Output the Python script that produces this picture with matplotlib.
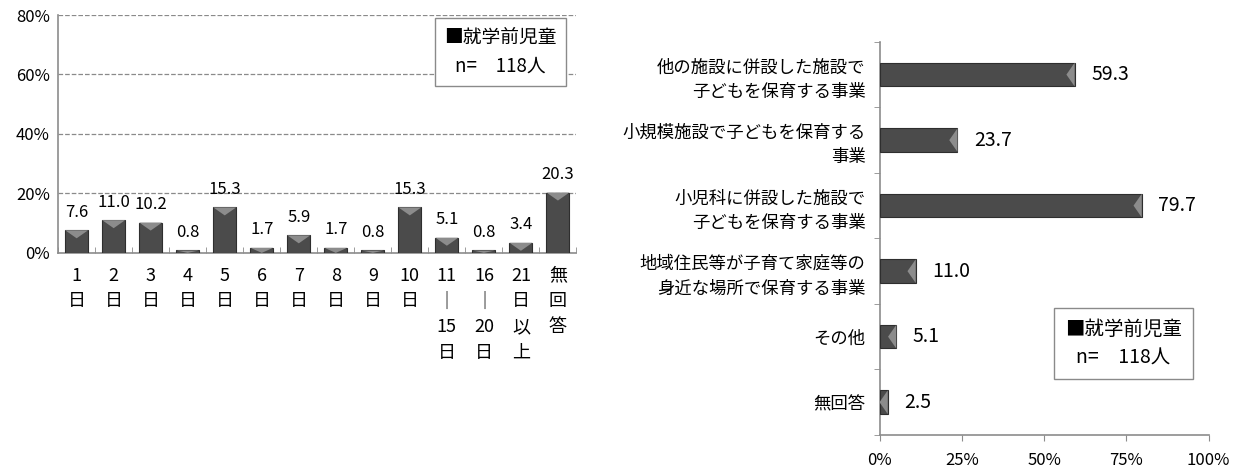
import numpy as np
import matplotlib
matplotlib.use("Agg")
from matplotlib import pyplot as plt
from matplotlib.patches import Polygon

plt.rcParams['font.family'] = ['Noto Sans CJK JP', 'DejaVu Sans']

# 左：日数
days_labels = ["1\n日", "2\n日", "3\n日", "4\n日", "5\n日", "6\n日", "7\n日", "8\n日", "9\n日",
               "10\n日", "11\n｜\n15\n日", "16\n｜\n20\n日", "21\n日\n以\n上", "無\n回\n答"]
days_values = [7.6, 11.0, 10.2, 0.8, 15.3, 1.7, 5.9, 1.7, 0.8, 15.3, 5.1, 0.8, 3.4, 20.3]

# 右：事業
biz_labels = ["他の施設に併設した施設で\n子どもを保育する事業",
              "小規模施設で子どもを保育する\n事業",
              "小児科に併設した施設で\n子どもを保育する事業",
              "地域住民等が子育て家庭等の\n身近な場所で保育する事業",
              "その他",
              "無回答"]
biz_values = [59.3, 23.7, 79.7, 11.0, 5.1, 2.5]

legend_text = "■就学前児童\nn=　118人"

bar_color = "#4b4b4b"
edge_color = "#2e2e2e"
hi_color = "#8c8c8c"
axis_color = "#8c8c8c"

fig = plt.figure(figsize=(12.37, 4.70), dpi=100)

# ---- 左のグラフ ----
ax1 = fig.add_axes([0.047, 0.462, 0.419, 0.506])
x = np.arange(len(days_values))
bars = ax1.bar(x, days_values, width=0.62, color=bar_color, edgecolor=edge_color, linewidth=0.8, zorder=3)
for b in bars:
    x0, w, h = b.get_x(), b.get_width(), b.get_height()
    d = min(h, 2.7)
    ax1.add_patch(Polygon([(x0, h), (x0 + w, h), (x0 + w / 2, h - d)], closed=True,
                          facecolor=hi_color, edgecolor="none", zorder=4))
for xi, v in zip(x, days_values):
    ax1.text(xi, v + 3.2, f"{v:.1f}", ha="center", va="bottom", fontsize=12)

ax1.set_xlim(-0.5, len(days_values) - 0.5)
ax1.set_ylim(0, 80)
ax1.set_yticks([0, 20, 40, 60, 80])
ax1.set_yticklabels(["0%", "20%", "40%", "60%", "80%"], fontsize=12)
ax1.set_xticks(x)
ax1.set_xticklabels(days_labels, fontsize=13, linespacing=1.55, va="top")
ax1.tick_params(axis="x", length=0, pad=10)
ax1.set_xticks(np.arange(len(days_values) + 1) - 0.5, minor=True)
ax1.tick_params(axis="x", which="minor", direction="in", length=4, color=axis_color)
ax1.tick_params(axis="y", length=0, pad=6)
ax1.grid(axis="y", linestyle="--", color="#8a8a8a", linewidth=0.9, zorder=0)
for s in ["top", "right"]:
    ax1.spines[s].set_visible(False)
ax1.spines["left"].set_color(axis_color)
ax1.spines["left"].set_linewidth(1.2)
ax1.spines["bottom"].set_color(axis_color)
ax1.spines["bottom"].set_linewidth(1.2)
ax1.text(0.853, 0.845, legend_text, transform=ax1.transAxes, ha="center", va="center",
         fontsize=13.5, linespacing=1.5, zorder=5,
         bbox=dict(boxstyle="square,pad=0.5", facecolor="white", edgecolor="#8a8a8a", linewidth=1))

# ---- 右のグラフ ----
ax2 = fig.add_axes([0.711, 0.0745, 0.266, 0.8365])
y = np.arange(len(biz_values))
hbars = ax2.barh(y, biz_values, height=0.36, color=bar_color, edgecolor=edge_color, linewidth=0.8, zorder=3)
for b in hbars:
    y0, hh, w = b.get_y(), b.get_height(), b.get_width()
    d = min(w, 2.5)
    ax2.add_patch(Polygon([(w, y0), (w, y0 + hh), (w - d, y0 + hh / 2)], closed=True,
                          facecolor=hi_color, edgecolor="none", zorder=4))
for yi, v in zip(y, biz_values):
    ax2.text(v + 5, yi, f"{v:.1f}", ha="left", va="center", fontsize=14)

ax2.set_ylim(len(biz_values) - 0.5, -0.5)
ax2.set_xlim(0, 100)
ax2.set_xticks([0, 25, 50, 75, 100])
ax2.set_xticklabels(["0%", "25%", "50%", "75%", "100%"], fontsize=12)
ax2.tick_params(axis="x", direction="out", length=4, color=axis_color, pad=8)
ax2.set_yticks(y)
ax2.set_yticklabels(biz_labels, fontsize=12.5, linespacing=1.45, multialignment="right")
ax2.tick_params(axis="y", length=0, pad=10)
ax2.set_yticks(np.arange(len(biz_values) + 1) - 0.5, minor=True)
ax2.tick_params(axis="y", which="minor", direction="out", length=4, color=axis_color)
for s in ["top", "right"]:
    ax2.spines[s].set_visible(False)
for s in ["left", "bottom"]:
    ax2.spines[s].set_color(axis_color)
    ax2.spines[s].set_linewidth(1.2)
ax2.text(0.741, 0.232, legend_text, transform=ax2.transAxes, ha="center", va="center",
         fontsize=14, linespacing=1.5, zorder=5,
         bbox=dict(boxstyle="square,pad=0.55", facecolor="white", edgecolor="#8a8a8a", linewidth=1))

fig.savefig("out.png", dpi=100, facecolor="white")
